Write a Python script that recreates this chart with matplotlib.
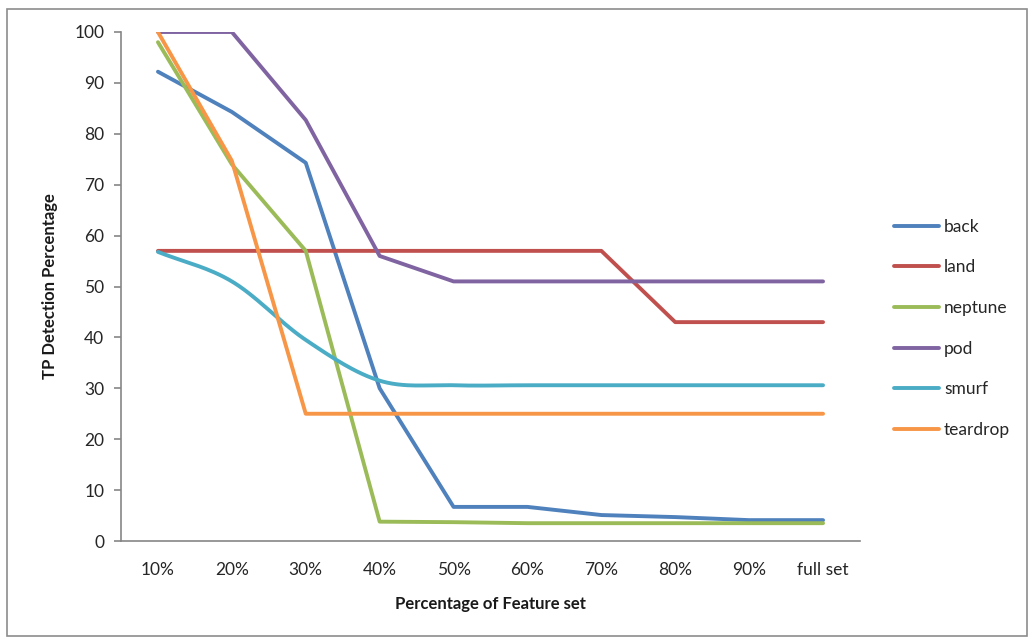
import matplotlib.pyplot as plt
from matplotlib.patches import Rectangle
import numpy as np

plt.rcParams['font.family'] = ['Lato', 'DejaVu Sans']

# %%

categories = ['10%', '20%', '30%', '40%', '50%', '60%', '70%', '80%', '90%', 'full set']

back = [92.2, 84.3, 74.3, 30.0, 6.7, 6.7, 5.1, 4.7, 4.1, 4.1]
land = [57, 57, 57, 57, 57, 57, 57, 43, 43, 43]
neptune = [98, 74, 57, 3.8, 3.7, 3.5, 3.5, 3.5, 3.5, 3.5]
pod = [100, 100, 82.7, 56, 51, 51, 51, 51, 51, 51]
smurf = [56.8, 51, 39.5, 31.5, 30.6, 30.6, 30.6, 30.6, 30.6, 30.6]
teardrop = [100, 74.7, 25, 25, 25, 25, 25, 25, 25, 25]

series_names = ['back', 'land', 'neptune', 'pod', 'smurf', 'teardrop']
series_values = [back, land, neptune, pod, smurf, teardrop]
series_colors = ['#4F81BD', '#C0504D', '#9BBB59', '#8064A2', '#4BACC6', '#F79646']
smoothed = [False, False, False, False, True, False]

# %%

def smooth_line(x, y, n=30):
    # Catmull-Rom through the points, like a spreadsheet "smoothed line"
    x = np.asarray(x, dtype=float)
    y = np.asarray(y, dtype=float)
    px = np.concatenate([[2 * x[0] - x[1]], x, [2 * x[-1] - x[-2]]])
    py = np.concatenate([[2 * y[0] - y[1]], y, [2 * y[-1] - y[-2]]])
    xs, ys = [], []
    t = np.linspace(0, 1, n)
    for i in range(1, len(px) - 2):
        for p, out in ((px, xs), (py, ys)):
            p0, p1, p2, p3 = p[i - 1], p[i], p[i + 1], p[i + 2]
            out.extend(0.5 * ((2 * p1) + (-p0 + p2) * t
                              + (2 * p0 - 5 * p1 + 4 * p2 - p3) * t ** 2
                              + (-p0 + 3 * p1 - 3 * p2 + p3) * t ** 3))
    return np.array(xs), np.array(ys)

fig = plt.figure(figsize=(10.34, 6.39), dpi=100)
ax = fig.add_axes([121 / 1034, 98 / 639, (860 - 121) / 1034, (541 - 32) / 639])

# grey frame round the whole chart
fig.patches.append(Rectangle((7 / 1034, 3 / 639), 1020 / 1034, 627 / 639,
                             transform=fig.transFigure, fill=False,
                             edgecolor='#8c8c8c', linewidth=1.2))

X = np.arange(len(categories))
for name, vals, col, sm in zip(series_names, series_values, series_colors, smoothed):
    if sm:
        xs, ys = smooth_line(X, vals)
    else:
        xs, ys = X, vals
    ax.plot(xs, ys, color=col, linewidth=2.8, label=name,
            solid_capstyle='round', solid_joinstyle='round')

ax.set_xlim(-0.5, len(categories) - 0.5)
ax.set_ylim(0, 100)
ax.set_yticks(range(0, 101, 10))
ax.set_xticks(X)
ax.set_xticklabels(categories)

for s in ['top', 'right']:
    ax.spines[s].set_visible(False)
for s in ['left', 'bottom']:
    ax.spines[s].set_color('#868686')
    ax.spines[s].set_linewidth(1.2)
    ax.spines[s].set_clip_on(False)

ax.tick_params(axis='y', direction='out', length=5, width=1.2, color='#868686',
               labelsize=12.5, labelcolor='#262626', pad=7)
ax.tick_params(axis='x', length=0, labelsize=12.5, labelcolor='#262626', pad=15)

ax.set_xlabel('Percentage of Feature set', fontsize=12, fontweight='bold',
              color='#1a1a1a', labelpad=13)
ax.set_ylabel('TP Detection Percentage', fontsize=12, fontweight='bold',
              color='#1a1a1a', labelpad=12)

ax.legend(loc='upper left', bbox_to_anchor=(878 / 1034, 1 - 203 / 639),
          bbox_transform=fig.transFigure, frameon=False, fontsize=12.5,
          handlelength=2.6, handletextpad=0.3, labelspacing=1.42,
          labelcolor='#262626')

fig.savefig('out.png', dpi=100)
